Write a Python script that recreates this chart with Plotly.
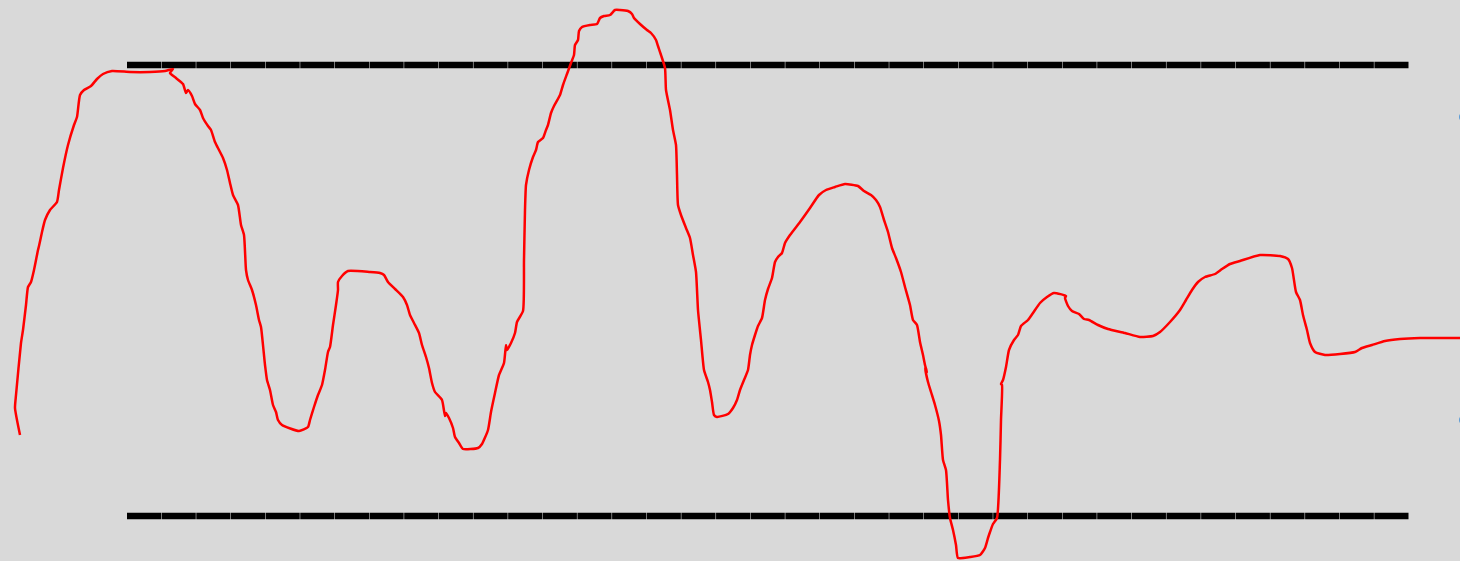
import plotly.graph_objects as go

# Red series: x position and value (value measured upward from the bottom of the chart)
red_x = [20, 15, 16, 21, 23, 26, 28, 31, 34, 37, 38, 39, 42, 45, 50, 57, 59, 63, 68, 74, 77, 80, 84, 91, 97,
         103, 112, 130, 150, 165, 173, 170, 176, 183, 186, 188, 192, 195, 200, 203, 208, 211, 215, 219, 223,
         227, 230, 233, 238, 241, 244, 246, 248, 252, 256, 259, 261, 265, 267, 270, 273, 276, 278, 282, 299,
         308, 310, 314, 318, 322, 325, 328, 330, 333, 336, 338, 338, 342, 348, 370, 380, 384, 388, 395, 403,
         407, 410, 414, 419, 422, 426, 429, 432, 435, 442, 445, 446, 449, 453, 455, 459, 463, 478, 482, 488,
         491, 495, 499, 504, 506, 507, 511, 515, 517, 523, 524, 525, 526, 529, 533, 536, 538, 543, 546, 548,
         551, 554, 560, 563, 567, 571, 574, 575, 578, 579, 582, 590, 597, 600, 604, 610, 615, 620, 628, 632,
         634, 640, 647, 651, 656, 658, 661, 665, 666, 670, 673, 676, 677, 678, 681, 686, 690, 693, 696, 698,
         701, 704, 708, 710, 712, 714, 717, 728, 733, 737, 740, 744, 748, 750, 752, 755, 758, 762, 765, 768,
         772, 775, 778, 782, 785, 790, 800, 810, 819, 826, 835, 845, 858, 864, 871, 876, 880, 884, 888, 892,
         896, 901, 905, 910, 913, 917, 920, 923, 925, 927, 925, 928, 931, 935, 939, 941, 943, 946, 948, 950,
         953, 956, 958, 970, 980, 985, 988, 990, 993, 997, 1000, 1001, 1002, 1001, 1003, 1006, 1009, 1014,
         1018, 1021, 1028, 1033, 1040, 1047, 1054, 1066, 1065, 1068, 1072, 1079, 1084, 1089, 1098, 1108,
         1125, 1140, 1153, 1160, 1170, 1180, 1186, 1192, 1198, 1205, 1215, 1222, 1230, 1240, 1260, 1280,
         1288, 1292, 1296, 1300, 1303, 1307, 1310, 1315, 1325, 1340, 1355, 1362, 1372, 1385, 1400, 1420,
         1440, 1460]
red_py = [435, 408, 395, 343, 330, 305, 287, 282, 270, 255, 250, 246, 232, 220, 210, 202, 190, 168, 145, 125,
          117, 95, 90, 86, 79, 74, 71, 72, 72, 71, 69, 73, 78, 84, 93, 90, 96, 104, 110, 118, 126, 130, 142,
          150, 158, 170, 183, 195, 205, 225, 235, 270, 280, 290, 305, 320, 327, 365, 380, 390, 405, 412, 420,
          425, 431, 427, 420, 407, 395, 385, 370, 352, 347, 325, 305, 290, 282, 276, 271, 272, 273, 275, 282,
          289, 297, 305, 315, 323, 333, 345, 357, 368, 383, 392, 400, 416, 413, 418, 428, 437, 443, 449, 448,
          444, 430, 412, 393, 375, 363, 345, 350, 343, 333, 322, 311, 260, 210, 185, 170, 157, 150, 142, 138,
          130, 125, 113, 106, 95, 85, 74, 63, 55, 45, 40, 31, 27, 25, 24, 18, 16, 15, 10, 10, 11, 14, 18, 24,
          30, 33, 40, 46, 55, 68, 90, 110, 130, 145, 175, 205, 215, 228, 238, 255, 272, 310, 340, 370, 382,
          390, 402, 415, 417, 414, 408, 400, 390, 380, 370, 355, 345, 335, 326, 318, 300, 289, 278, 262, 257,
          253, 243, 235, 222, 208, 195, 190, 187, 184, 186, 191, 195, 200, 207, 220, 232, 248, 258, 272, 287,
          305, 320, 325, 342, 355, 365, 372, 368, 382, 392, 405, 421, 435, 460, 470, 500, 518, 530, 545, 558,
          557, 555, 548, 538, 532, 524, 518, 460, 420, 385, 384, 380, 367, 350, 340, 335, 326, 320, 313, 303,
          297, 293, 296, 298, 306, 311, 314, 319, 320, 325, 329, 333, 337, 336, 332, 322, 310, 300, 290, 282,
          277, 274, 269, 264, 261, 255, 256, 259, 268, 292, 300, 315, 330, 343, 352, 355, 354, 352, 348, 345,
          341, 339, 338, 338, 338]
CHART_H = 561
red_y = [CHART_H - p for p in red_py]

# Two black reference levels
level_x = [127, 1409]
upper_level = [CHART_H - 65, CHART_H - 65]
lower_level = [CHART_H - 516, CHART_H - 516]

# Partially visible blue points at the right edge
blue_x = [1463, 1463]
blue_y = [CHART_H - 117, CHART_H - 420]

fig = go.Figure()
for lv in (upper_level, lower_level):
    fig.add_trace(go.Scatter(x=level_x, y=lv, mode="lines",
                             line=dict(color="black", width=6.5, dash="34.1px,0.55px"),
                             hoverinfo="skip"))
fig.add_trace(go.Scatter(x=red_x, y=red_y, mode="lines",
                         line=dict(color="#ff0000", width=2.5, shape="spline", smoothing=0.5)))
fig.add_trace(go.Scatter(x=blue_x, y=blue_y, mode="markers",
                         marker=dict(color="#5b9bd5", size=8)))

fig.update_layout(
    width=1460, height=561,
    margin=dict(l=0, r=0, t=0, b=0),
    paper_bgcolor="#d9d9d9", plot_bgcolor="#d9d9d9",
    showlegend=False,
    xaxis=dict(range=[0, 1460], visible=False, fixedrange=True),
    yaxis=dict(range=[0, 561], visible=False, fixedrange=True),
)
fig.write_html("out.html", config={"displayModeBar": False},
               post_script="document.body.style.margin='0';document.body.style.overflow='hidden';")
